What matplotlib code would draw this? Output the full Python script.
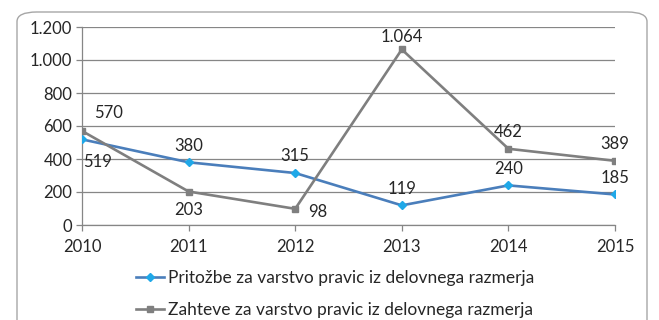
import matplotlib.pyplot as plt
from matplotlib.patches import FancyBboxPatch
from matplotlib.lines import Line2D
from matplotlib.ticker import FuncFormatter

plt.rcParams['font.family'] = ['Lato', 'DejaVu Sans']

years = [2010, 2011, 2012, 2013, 2014, 2015]
pritozbe = [519, 380, 315, 119, 240, 185]
zahteve = [570, 203, 98, 1064, 462, 389]

label_pritozbe = "Pritožbe za varstvo pravic iz delovnega razmerja"
label_zahteve = "Zahteve za varstvo pravic iz delovnega razmerja"

# label offsets (points) for each data label
off_pritozbe = [(11, -16), (0, 12), (0, 12), (0, 12), (0, 12), (0, 12)]
off_zahteve = [(19, 13), (0, -13), (16, -2), (0, 9), (0, 12), (0, 12)]

blue_line = "#4a7ebb"
blue_mark = "#1fa8e8"
gray = "#7f7f7f"
text_col = "#262626"


def thousands(v):
    return f"{int(round(v)):,}".replace(",", ".")


fig = plt.figure(figsize=(6.59, 3.2), dpi=100)

# rounded frame around the chart
frame = FancyBboxPatch((17 / 659, -0.2), 630 / 659, 1.2 - 12 / 320,
                       boxstyle="round,pad=0,rounding_size=0.03",
                       transform=fig.transFigure, facecolor="white",
                       edgecolor="#a6a6a6", linewidth=1.0, zorder=-1)
fig.patches.append(frame)

ax = fig.add_axes([82 / 659, 1 - 225 / 320, 533 / 659, 198 / 320])
ax.set_facecolor("none")

ax.plot(years, pritozbe, color=blue_line, linewidth=1.9, marker="D",
        markersize=4.5, markerfacecolor=blue_mark, markeredgecolor=blue_mark,
        label=label_pritozbe, zorder=3)
ax.plot(years, zahteve, color=gray, linewidth=1.9, marker="s",
        markersize=5, markerfacecolor=gray, markeredgecolor=gray,
        label=label_zahteve, zorder=3)

for x, y, (dx, dy) in zip(years, pritozbe, off_pritozbe):
    ax.annotate(thousands(y), (x, y), xytext=(dx, dy), textcoords="offset points",
                ha="center", va="center", fontsize=12, color=text_col)
for x, y, (dx, dy) in zip(years, zahteve, off_zahteve):
    ax.annotate(thousands(y), (x, y), xytext=(dx, dy), textcoords="offset points",
                ha="center", va="center", fontsize=12, color=text_col)

ax.set_xlim(2010, 2015)
ax.set_ylim(0, 1200)
ax.set_xticks(years)
ax.set_yticks(range(0, 1201, 200))
ax.yaxis.set_major_formatter(FuncFormatter(lambda v, p: thousands(v)))

ax.grid(axis="y", color="#868686", linewidth=0.9)
ax.set_axisbelow(True)
for s in ["top", "right"]:
    ax.spines[s].set_visible(False)
for s in ["left", "bottom"]:
    ax.spines[s].set_color("#868686")
    ax.spines[s].set_linewidth(0.9)
ax.tick_params(axis="both", colors="#868686", labelcolor=text_col,
               labelsize=12, length=4, width=0.9)
ax.tick_params(axis="x", pad=6)
ax.tick_params(axis="y", pad=3)

handles = [
    Line2D([], [], color=blue_line, linewidth=1.9, marker="D", markersize=4,
           markerfacecolor=blue_mark, markeredgecolor=blue_mark),
    Line2D([], [], color=gray, linewidth=1.9, marker="s", markersize=4,
           markerfacecolor=gray, markeredgecolor=gray),
]
fig.legend(handles, [label_pritozbe, label_zahteve], loc="center",
           bbox_to_anchor=(335 / 659, 1 - 294 / 320), frameon=False,
           fontsize=12.5, handlelength=1.6, handletextpad=0.2,
           labelspacing=0.9, labelcolor=text_col)

fig.savefig("out.png", dpi=100)
